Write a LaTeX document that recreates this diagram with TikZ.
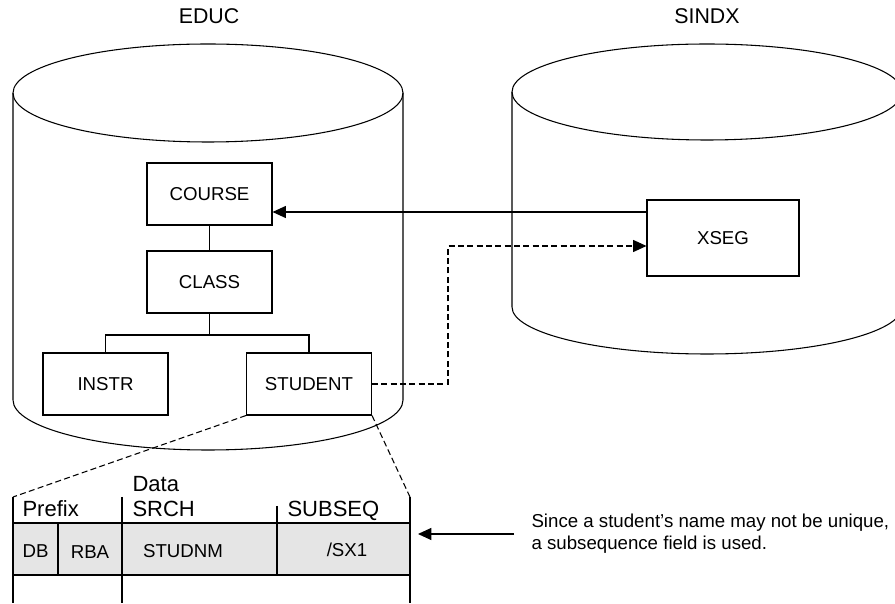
\documentclass[tikz,border=0pt]{standalone}
\usepackage{fontspec}
\setmainfont{Liberation Sans}
\usetikzlibrary{arrows.meta}
\begin{document}
\begin{tikzpicture}[x=0.75pt,y=0.75pt,
  line width=0.8pt,
  seg/.style={draw, minimum width=93.75pt, minimum height=46.5pt, inner sep=0pt, font=\fontsize{14}{16}\selectfont},
  dashline/.style={dash pattern=on 4.5pt off 2.5pt},
  arr/.style={-{Triangle[length=10pt,width=9pt]}},
  title/.style={font=\fontsize{16}{18}\selectfont, anchor=base, inner sep=0pt},
  hdr/.style={font=\fontsize{16.5}{18}\selectfont, anchor=base west, inner sep=0pt},
  fld/.style={font=\fontsize{14}{16}\selectfont, anchor=base, inner sep=0pt},
  note/.style={font=\fontsize{14}{16}\selectfont, anchor=base west, inner sep=0pt}]

\useasboundingbox (0,0) rectangle (895,603);

% cylinders
\draw (13,510) -- (13,203) arc[start angle=180, end angle=360, x radius=195, y radius=50] -- (403,510);
\draw (208,510) ellipse[x radius=195, y radius=49];
\draw (512,511) -- (512,296) arc[start angle=180, end angle=360, x radius=195, y radius=47] -- (902,511);
\draw (707,511) ellipse[x radius=195, y radius=48];

\node[title] (educ) at (209,579) {EDUC};
\node[title] (sindx) at (707,579) {SINDX};

% segments
\node[seg] (course) at (209.5,409) {COURSE};
\node[seg] (class) at (209.5,321) {CLASS};
\node[seg] (instr) at (105.5,219) {INSTR};
\node[seg] (student) at (309,219) {STUDENT};
\node[seg, minimum width=114pt, minimum height=57pt] (xseg) at (723,365) {XSEG};

\draw (course) -- (class);
\coordinate (tj) at (209.5,268);
\draw (class.south) -- (tj);
\draw (instr.north) |- (tj) -| (student.north);

% pointers
\coordinate (ya) at (0,391);
\draw[arr] (xseg.west |- ya) -- (course.east |- ya);
\coordinate (dk) at (448,357);
\draw[dashline,arr] (student.east) -| (dk) -- (dk -| xseg.west);

% record
\fill[gray!20] (13,28) rectangle (410,80);
\draw (13,80) -- (410,80);
\draw (13,28) -- (410,28);
\coordinate (rtl) at (13,106);
\coordinate (rtr) at (410,106);
\draw (rtl) -- (13,0);
\draw (122,106) -- (122,0);
\draw (rtr) -- (410,0);
\draw (277,97) -- (277,28);
\draw (58,80) -- (58,28);

\draw[dashline] (student.south west) -- (rtl);
\draw[dashline] (student.south east) -- (rtr);

\node[hdr] (prefix) at (22,87) {Prefix};
\node[hdr] (data) at (132,111) {Data};
\node[hdr] (srch) at (132,87) {SRCH};
\node[hdr] (subseq) at (287,87) {SUBSEQ};

\node[fld] (db) at (35.5,46) {DB};
\node[fld] (rba) at (90,45) {RBA};
\node[fld] (studnm) at (183,46) {STUDNM};
\node[fld] (sx1) at (347,47) {/SX1};

% note
\coordinate (na) at (514,69);
\coordinate (nb) at (418,69);
\draw[arr] (na) -- (nb);
\node[note] (note1) at (531,75) {Since a student’s name may not be unique,};
\node[note] (note2) at (531,54) {a subsequence field is used.};
\end{tikzpicture}
\end{document}
